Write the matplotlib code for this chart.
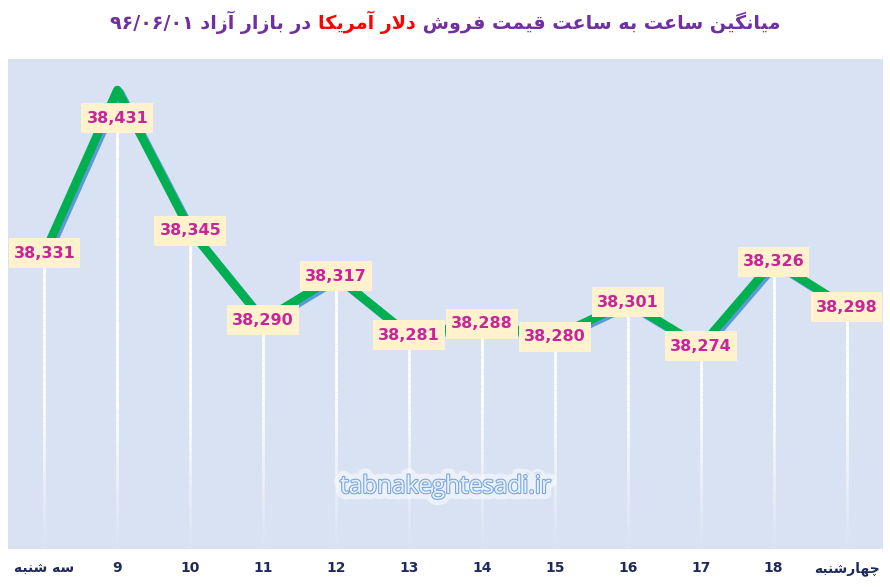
import matplotlib
matplotlib.use('Agg')
import matplotlib.pyplot as plt
import matplotlib.patheffects as pe
from matplotlib.collections import LineCollection
from matplotlib.path import Path
from matplotlib import font_manager
from matplotlib.ft2font import FT2Font
import numpy as np

# ---------------- data ----------------
categories = ['سه شنبه', '9', '10', '11', '12', '13', '14', '15', '16', '17', '18', 'چهارشنبه']
prices = [38331, 38431, 38345, 38290, 38317, 38281, 38288, 38280, 38301, 38274, 38326, 38298]
title_right = 'میانگین ساعت به ساعت قیمت فروش'
title_mid = 'دلار آمریکا'
title_left = 'در بازار آزاد'
title_date = '۹۶/۰۶/۰۱'
watermark = 'tabnakeghtesadi.ir'

# ---------------- minimal Arabic/Persian shaping ----------------
FONT = 'DejaVu Sans'
_path = font_manager.findfont(font_manager.FontProperties(family=FONT, weight='bold'))
_cmap = FT2Font(_path).get_charmap()

FORMS = {
    'ا': ('\uFE8D', '\uFE8E', None, None),
    'آ': ('\uFE81', '\uFE82', None, None),
    'ب': ('\uFE8F', '\uFE90', '\uFE91', '\uFE92'),
    'ت': ('\uFE95', '\uFE96', '\uFE97', '\uFE98'),
    'د': ('\uFEA9', '\uFEAA', None, None),
    'ر': ('\uFEAD', '\uFEAE', None, None),
    'ز': ('\uFEAF', '\uFEB0', None, None),
    'س': ('\uFEB1', '\uFEB2', '\uFEB3', '\uFEB4'),
    'ش': ('\uFEB5', '\uFEB6', '\uFEB7', '\uFEB8'),
    'ع': ('\uFEC9', '\uFECA', '\uFECB', '\uFECC'),
    'ف': ('\uFED1', '\uFED2', '\uFED3', '\uFED4'),
    'ق': ('\uFED5', '\uFED6', '\uFED7', '\uFED8'),
    'ل': ('\uFEDD', '\uFEDE', '\uFEDF', '\uFEE0'),
    'م': ('\uFEE1', '\uFEE2', '\uFEE3', '\uFEE4'),
    'ن': ('\uFEE5', '\uFEE6', '\uFEE7', '\uFEE8'),
    'ه': ('\uFEE9', '\uFEEA', '\uFEEB', '\uFEEC'),
    'و': ('\uFEED', '\uFEEE', None, None),
    'ی': ('\uFBFC', '\uFBFD', '\uFBFE', '\uFBFF'),
    'ک': ('\uFB8E', '\uFB8F', '\uFB90', '\uFB91'),
    'گ': ('\uFB92', '\uFB93', '\uFB94', '\uFB95'),
    'چ': ('\uFB7A', '\uFB7B', '\uFB7C', '\uFB7D'),
}
ALT = {
    'ی': ('\uFEEF', '\uFEF0', '\uFEF3', '\uFEF4'),
    'ک': ('\uFED9', '\uFEDA', '\uFEDB', '\uFEDC'),
    'گ': ('\uFED9', '\uFEDA', '\uFEDB', '\uFEDC'),
    'چ': ('\uFEA1', '\uFEA2', '\uFEA3', '\uFEA4'),
}
for k, alt in ALT.items():
    if not all(ord(c) in _cmap for c in FORMS[k]):
        FORMS[k] = alt


def shape(text):
    if not any(c in FORMS for c in text):
        return text
    out = []
    i = 0
    n = len(text)
    while i < n:
        c = text[i]
        prev = text[i - 1] if i > 0 else ''
        jp = prev in FORMS and FORMS[prev][2] is not None
        if c == 'ل' and i + 1 < n and text[i + 1] in ('ا', 'آ'):
            if text[i + 1] == 'ا':
                out.append('\uFEFC' if jp else '\uFEFB')
            else:
                out.append('\uFEF6' if jp else '\uFEF5')
            i += 2
            continue
        if c in FORMS:
            f = FORMS[c]
            nxt = text[i + 1] if i + 1 < n else ''
            jn = f[2] is not None and nxt in FORMS
            if jp and jn:
                out.append(f[3])
            elif jp:
                out.append(f[1])
            elif jn:
                out.append(f[2])
            else:
                out.append(f[0])
        else:
            out.append(c)
        i += 1
    return ''.join(out[::-1])


def label_box(x0, y0, width, height, mutation_size):
    """Rectangle with fixed pixel paddings (horizontal 5 px, total height 30 px)."""
    cx, cy = x0 + width / 2, y0 + height / 2
    hw, hh = width / 2 + 5, 15
    return Path([(cx - hw, cy - hh), (cx + hw, cy - hh), (cx + hw, cy + hh),
                 (cx - hw, cy + hh), (cx - hw, cy - hh)], closed=True)


# ---------------- figure ----------------
fig = plt.figure(figsize=(8.9, 5.87), dpi=100)
fig.patch.set_facecolor('white')
ax = fig.add_axes([8 / 890, (587 - 549) / 587, 875 / 890, 490 / 587])
ax.set_facecolor('#D9E2F3')
ax.set_xlim(-0.5, len(categories) - 0.5)
ax.set_ylim(38150, 38450)
for s in ax.spines.values():
    s.set_visible(False)
ax.set_yticks([])

x = np.arange(len(prices))

# drop lines fading toward the bottom
ymin = ax.get_ylim()[0]
segs, cols = [], []
N = 40
for xi, v in zip(x, prices):
    ys = np.linspace(v, ymin, N + 1)
    for k in range(N):
        segs.append([(xi, ys[k]), (xi, ys[k + 1])])
        ymid = (ys[k] + ys[k + 1]) / 2
        frac = (ymid - ymin) / (38450 - ymin)
        a = min(1.0, max(0.05, frac / 0.3))
        cols.append((1, 1, 1, a))
ax.add_collection(LineCollection(segs, colors=cols, linewidths=2.0, zorder=2))

# main line with shadow
ax.plot(x, prices, color='#00B050', lw=6.2, solid_joinstyle='round', solid_capstyle='round', zorder=3,
        path_effects=[pe.SimpleLineShadow(offset=(1.8, -1.8), shadow_color='#5B9BD5', alpha=1.0), pe.Normal()])

# data labels
imax = int(np.argmax(prices))
for xi, v in zip(x, prices):
    dy = -28 if xi == imax else 0
    ax.annotate(f'{v:,}', xy=(xi, v), xytext=(0, dy), textcoords='offset pixels',
                ha='center', va='center', fontsize=11.5, fontweight='bold', color='#C8259A',
                family=FONT, zorder=5,
                bbox=dict(boxstyle=label_box, fc='#FFF2CC', ec='none'))

# x tick labels
ax.set_xticks(x)
ax.set_xticklabels([shape(c) for c in categories], fontsize=10, fontweight='bold',
                   color='#1F2A5C', family=FONT)
ax.tick_params(axis='x', length=0, pad=9)

# watermark
ax.text(0.5, (587 - 487 - 38) / 490, watermark, transform=ax.transAxes, ha='center', va='center',
        fontsize=17.5, color='#E8F0FB', family='Open Sans', zorder=4,
        path_effects=[pe.Stroke(linewidth=9, foreground='white', alpha=0.5),
                      pe.Stroke(linewidth=1.6, foreground='#7AA7DE'), pe.Normal()])

# title in three colored pieces (visual order left -> right)
pieces = [
    (title_date + ' ' + shape(title_left) + ' ', '#7030A0'),
    (shape(title_mid), '#FF0000'),
    (' ' + shape(title_right), '#7030A0'),
]
ty = 1 - 22 / 587
fs = 15
texts = [fig.text(0, ty, s, color=c, fontsize=fs, fontweight='bold', family=FONT, ha='left', va='center')
         for s, c in pieces]
fig.canvas.draw()
r = fig.canvas.get_renderer()
widths = [t.get_window_extent(r).width for t in texts]
scale = 670 / sum(widths)
for t in texts:
    t.set_fontsize(fs * scale)
fig.canvas.draw()
widths = [t.get_window_extent(r).width for t in texts]
xpos = 110
for t, w in zip(texts, widths):
    t.set_x(xpos / 890)
    xpos += w

fig.savefig('out.png', dpi=100, facecolor='white')
